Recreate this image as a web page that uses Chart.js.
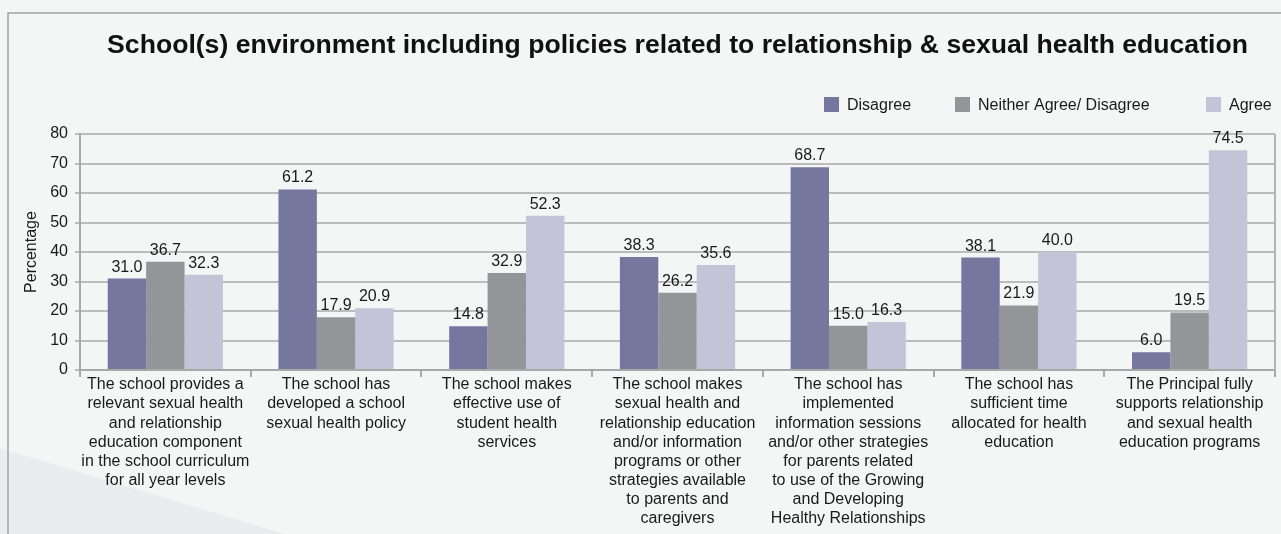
<!DOCTYPE html>
<html>
<head>
<meta charset="utf-8">
<script src="https://cdn.jsdelivr.net/npm/chart.js@4.4.1/dist/chart.umd.min.js"></script>
<style>
  html, body { margin: 0; padding: 0; background: #f4f5f5; }
</style>
</head>
<body>
<canvas id="barChart" width="1281" height="534"></canvas>
<script>
// Categories (x axis labels, already broken into lines)
const categories = [
    ['The school provides a', 'relevant sexual health', 'and relationship', 'education component', 'in the school curriculum', 'for all year levels'],
    ['The school has', 'developed a school', 'sexual health policy'],
    ['The school makes', 'effective use of', 'student health', 'services'],
    ['The school makes', 'sexual health and', 'relationship education', 'and/or information', 'programs or other', 'strategies available', 'to parents and', 'caregivers'],
    ['The school has', 'implemented', 'information sessions', 'and/or other strategies', 'for parents related', 'to use of the Growing', 'and Developing', 'Healthy Relationships'],
    ['The school has', 'sufficient time', 'allocated for health', 'education'],
    ['The Principal fully', 'supports relationship', 'and sexual health', 'education programs']
];

const seriesNames = ['Disagree', 'Neither Agree/ Disagree', 'Agree'];
const disagree = [31.0, 61.2, 14.8, 38.3, 68.7, 38.1, 6.0];
const neither = [36.7, 17.9, 32.9, 26.2, 15.0, 21.9, 19.5];
const agree = [32.3, 20.9, 52.3, 35.6, 16.3, 40.0, 74.5];
const yTicks = [0, 10, 20, 30, 40, 50, 60, 70, 80];

const FONT = "'Liberation Sans', Arial, Helvetica, sans-serif";
const colors = ['#75779f', '#949598', '#c3c4d7'];

// Background, frame and the faint shape bottom left
const backdrop = {
    id: 'backdrop',
    beforeDraw(chart) {
        const ctx = chart.ctx;
        const w = chart.width, h = chart.height;
        ctx.save();
        ctx.fillStyle = '#f4f5f5';
        ctx.fillRect(0, 0, w, h);
        ctx.fillStyle = '#ebeced';
        ctx.beginPath();
        ctx.moveTo(0, 448);
        ctx.lineTo(285, h);
        ctx.lineTo(0, h);
        ctx.closePath();
        ctx.fill();
        ctx.strokeStyle = '#a3a3a3';
        ctx.lineWidth = 1.5;
        ctx.beginPath();
        ctx.moveTo(w, 13);
        ctx.lineTo(8, 13);
        ctx.lineTo(8, h);
        ctx.stroke();
        ctx.restore();
    },
    afterDraw(chart) {
        // right border of the plot
        const {ctx, chartArea} = chart;
        ctx.save();
        ctx.strokeStyle = '#b5b5b5';
        ctx.lineWidth = 2;
        ctx.beginPath();
        ctx.moveTo(chartArea.right, chartArea.top);
        ctx.lineTo(chartArea.right, chartArea.bottom);
        ctx.stroke();
        ctx.restore();
    }
};

// Value labels above each bar
const valueLabels = {
    id: 'valueLabels',
    afterDatasetsDraw(chart) {
        const ctx = chart.ctx;
        ctx.save();
        ctx.font = '16px ' + FONT;
        ctx.fillStyle = '#1a1a1a';
        ctx.textAlign = 'center';
        ctx.textBaseline = 'alphabetic';
        chart.data.datasets.forEach((ds, i) => {
            chart.getDatasetMeta(i).data.forEach((bar, j) => {
                ctx.fillText(ds.data[j].toFixed(1), bar.x, bar.y - 7);
            });
        });
        ctx.restore();
    }
};

// Legend laid out like the original (spread along the top right)
const spreadLegend = {
    id: 'spreadLegend',
    afterDraw(chart, args, opts) {
        const ctx = chart.ctx;
        ctx.save();
        ctx.font = '16px ' + FONT;
        ctx.textBaseline = 'middle';
        ctx.textAlign = 'left';
        chart.data.datasets.forEach((ds, i) => {
            const x = opts.xs[i];
            ctx.fillStyle = ds.backgroundColor;
            ctx.fillRect(x, opts.y - 7.5, 15, 15);
            ctx.fillStyle = '#1a1a1a';
            ctx.fillText(ds.label, x + 23, opts.y + 1);
        });
        ctx.restore();
    }
};

const ctx = document.getElementById('barChart').getContext('2d');
new Chart(ctx, {
    type: 'bar',
    data: {
        labels: categories,
        datasets: [
            { label: seriesNames[0], data: disagree, backgroundColor: colors[0] },
            { label: seriesNames[1], data: neither, backgroundColor: colors[1] },
            { label: seriesNames[2], data: agree, backgroundColor: colors[2] }
        ]
    },
    options: {
        responsive: false,
        animation: false,
        layout: { padding: { top: 0, left: 0, right: 6, bottom: 0 } },
        datasets: {
            bar: { categoryPercentage: 0.675, barPercentage: 1.0 }
        },
        plugins: {
            legend: { display: false },
            tooltip: { enabled: false },
            title: {
                display: true,
                fullSize: false,
                text: 'School(s) environment including policies related to relationship & sexual health education',
                color: '#111',
                font: { family: FONT, size: 26.6, weight: 'bold', lineHeight: 1.2 },
                padding: { top: 29.8, bottom: 72.3 }
            },
            spreadLegend: { xs: [824, 955, 1206], y: 104.5 }
        },
        scales: {
            x: {
                afterFit(scale) { scale.height = 164; },
                grid: {
                    drawOnChartArea: false,
                    drawTicks: true,
                    tickLength: 7,
                    color: '#a8a8a8',
                    lineWidth: 2
                },
                border: { color: '#a8a8a8', width: 2 },
                ticks: {
                    autoSkip: false,
                    maxRotation: 0,
                    padding: -1.5,
                    color: '#1a1a1a',
                    font: { family: FONT, size: 16, lineHeight: 1.19 }
                }
            },
            y: {
                min: yTicks[0],
                max: yTicks[yTicks.length - 1],
                afterFit(scale) { scale.width = 80; },
                ticks: {
                    stepSize: yTicks[1] - yTicks[0],
                    padding: 7,
                    color: '#1a1a1a',
                    font: { family: FONT, size: 16 }
                },
                grid: {
                    color: '#bcbcbc',
                    lineWidth: 2,
                    tickLength: 5
                },
                border: { color: '#a8a8a8', width: 2 },
                title: {
                    display: true,
                    text: 'Percentage',
                    color: '#1a1a1a',
                    font: { family: FONT, size: 16, lineHeight: 1.2 },
                    padding: { top: 22, bottom: 0 }
                }
            }
        }
    },
    plugins: [backdrop, valueLabels, spreadLegend]
});
</script>
</body>
</html>
